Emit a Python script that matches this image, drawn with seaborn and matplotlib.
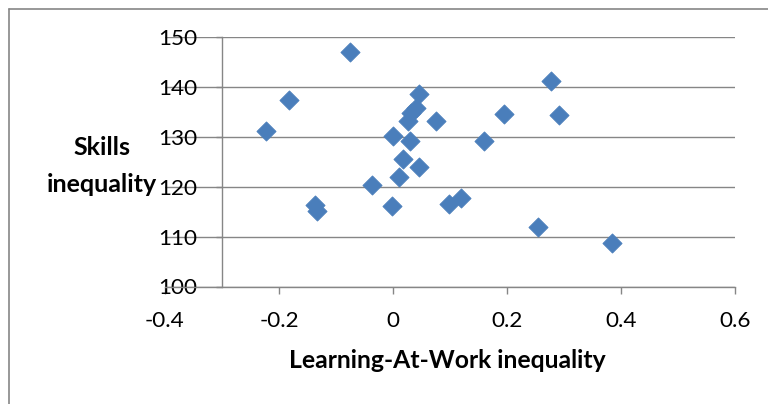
import matplotlib
matplotlib.use("Agg")
import matplotlib.pyplot as plt
from matplotlib.lines import Line2D
import seaborn as sns
import pandas as pd

# Data
learning_at_work = [-0.075, -0.183, -0.2225, -0.136, -0.134, 0.045, 0.0395, 0.032,
                    0.026, 0.0746, 0.000, 0.029, 0.017, 0.045, 0.011, -0.037,
                    -0.002, 0.098, 0.120, 0.1605, 0.194, 0.2775, 0.292, 0.254, 0.384]
skills = [146.9, 137.3, 131.1, 116.4, 115.2, 138.5, 135.8, 134.8,
          133.1, 133.1, 130.1, 129.1, 125.5, 123.9, 122.0, 120.4,
          116.2, 116.6, 117.7, 129.2, 134.6, 141.1, 134.4, 111.9, 108.7]
x_ticks = [-0.4, -0.2, 0.0, 0.2, 0.4, 0.6]
x_tick_labels = ["-0.4", "-0.2", "0", "0.2", "0.4", "0.6"]
y_ticks = [100, 110, 120, 130, 140, 150]
y_tick_labels = ["100", "110", "120", "130", "140", "150"]
x_title = "Learning-At-Work inequality"
y_title_lines = ["Skills", "inequality"]

df = pd.DataFrame({"law": learning_at_work, "skills": skills})

sns.set_theme(style="white")
plt.rcParams["font.family"] = ["Lato", "DejaVu Sans"]

W, H = 768, 404
fig = plt.figure(figsize=(W / 100, H / 100), dpi=100)
ax = fig.add_axes([165 / W, 1 - 286.5 / H, (735 - 165) / W, (286.5 - 36.7) / H])

grid_col = "#868686"
sns.scatterplot(data=df, x="law", y="skills", ax=ax, marker="D", s=95,
                color="#4A7EBB", edgecolor="#4A7EBB", linewidth=0.6, zorder=3)

ax.set_xlim(-0.4, 0.6)
ax.set_ylim(100, 150)
ax.set_xticks(x_ticks)
ax.set_xticklabels(x_tick_labels)
ax.set_yticks(y_ticks)
ax.set_yticklabels(y_tick_labels)
ax.set_xlabel("")
ax.set_ylabel("")

ax.yaxis.grid(True, color=grid_col, linewidth=1.0)
ax.xaxis.grid(False)
ax.set_axisbelow(True)

for s in ["top", "right"]:
    ax.spines[s].set_visible(False)
ax.spines["left"].set_position(("data", -0.3))
for s in ["left", "bottom"]:
    ax.spines[s].set_color(grid_col)
    ax.spines[s].set_linewidth(1.0)

ax.tick_params(axis="x", direction="out", length=5, width=1.0, color=grid_col,
               pad=12.5, labelsize=16.2, labelcolor="black", bottom=True)
ax.tick_params(axis="y", direction="out", length=4, width=1.0, color=grid_col,
               pad=14, labelsize=16.2, labelcolor="black", left=True)

# Axis titles
fig.text(447.5 / W, 1 - 368 / H, x_title, ha="center", va="baseline",
         fontsize=17.8, fontweight="bold", color="black")
fig.text(102 / W, 1 - 155 / H, y_title_lines[0], ha="center", va="baseline",
         fontsize=18, fontweight="bold", color="black")
fig.text(102 / W, 1 - 192 / H, y_title_lines[1], ha="center", va="baseline",
         fontsize=18, fontweight="bold", color="black")

# Chart border (top and left)
fig.add_artist(Line2D([9 / W, 1.0], [1 - 8.5 / H, 1 - 8.5 / H], color=grid_col,
                      linewidth=1.2, transform=fig.transFigure))
fig.add_artist(Line2D([9 / W, 9 / W], [1 - 8.5 / H, 0.0], color=grid_col,
                      linewidth=1.2, transform=fig.transFigure))

fig.savefig("out.png", dpi=100)
